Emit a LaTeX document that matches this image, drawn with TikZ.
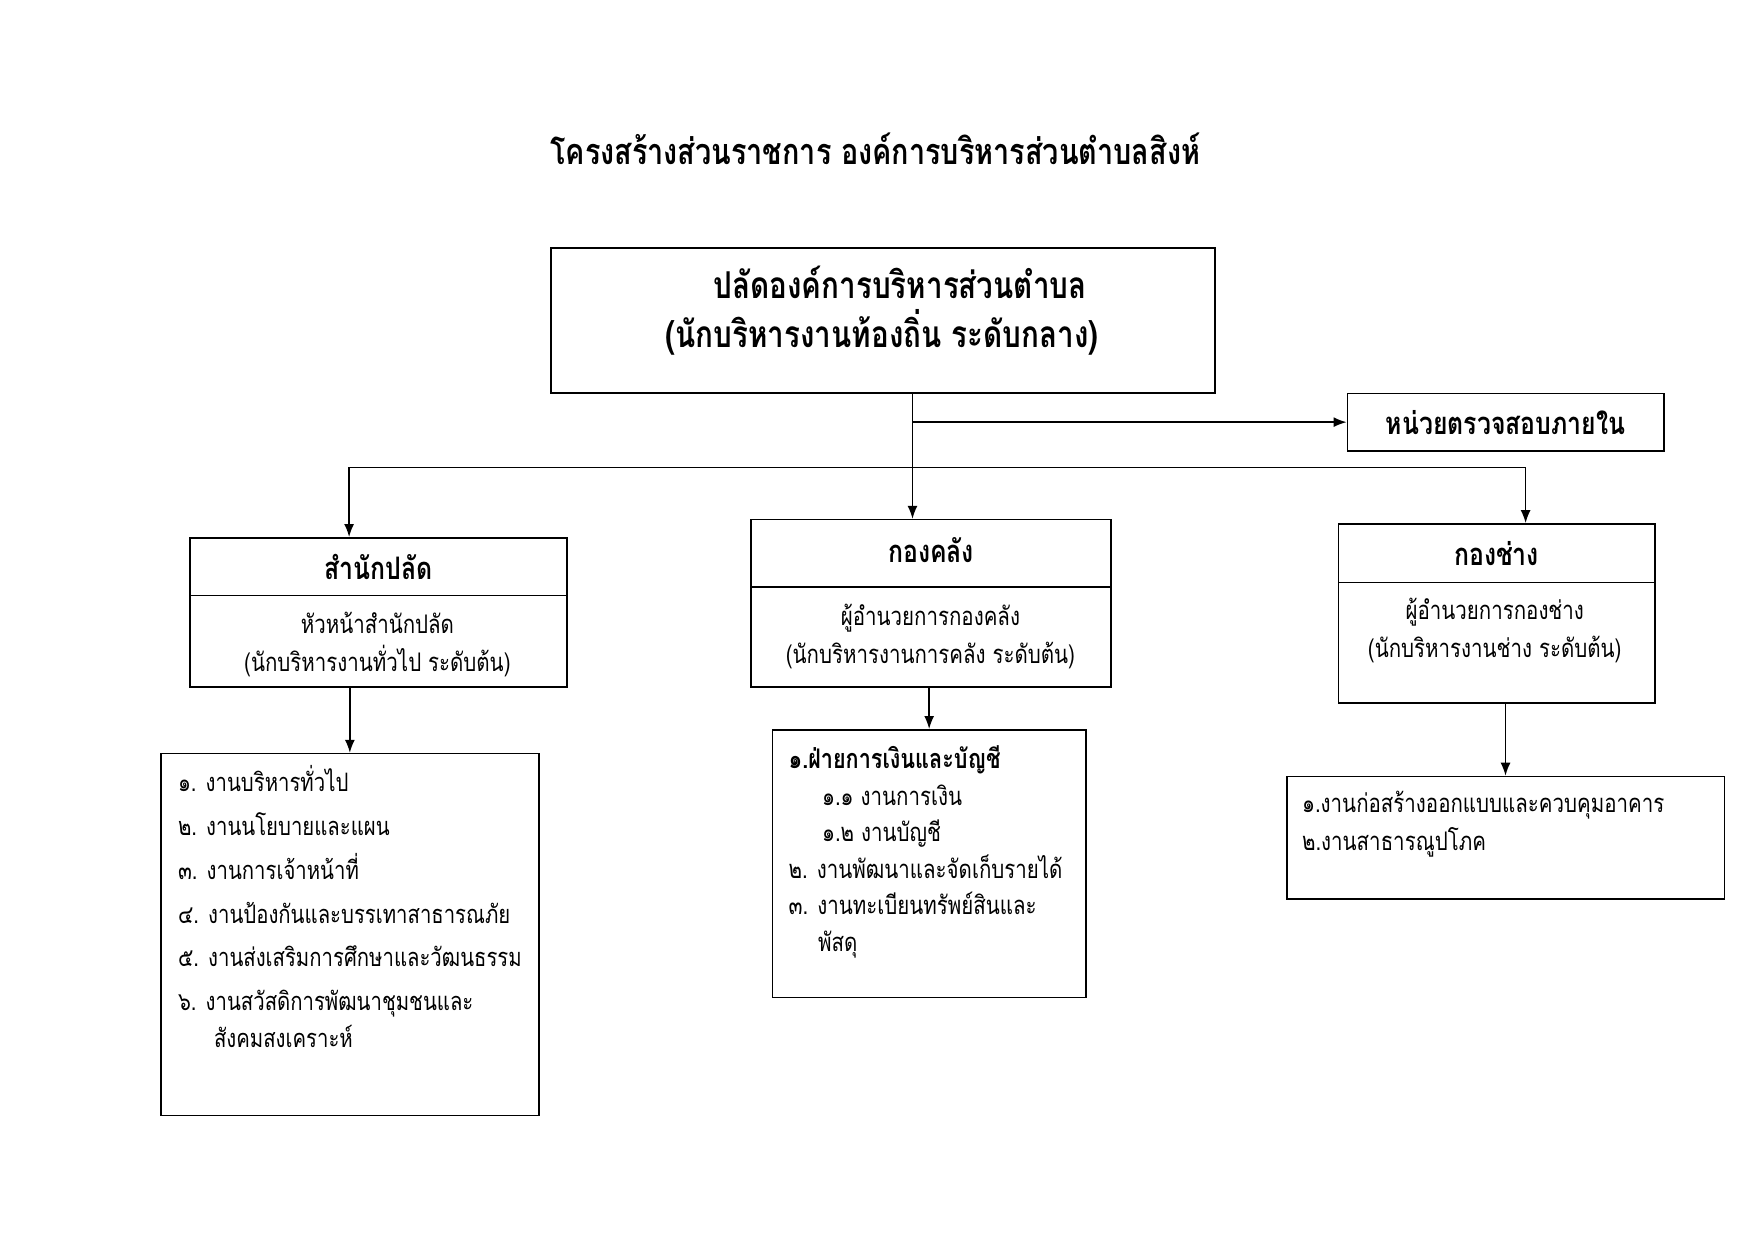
\documentclass[tikz,border=0pt]{standalone}
\usepackage{fontspec}
\usepackage{xcolor}
\usetikzlibrary{scopes,arrows.meta}
\newfontfamily\thai[Script=Thai,FakeStretch=0.8]{Loma}

\begin{document}
\begin{tikzpicture}[x=1pt,y=-1pt,
      box/.style={draw=black,line width=1.6pt,inner sep=0pt,anchor=north west},
      ttl/.style={font=\thai\fontsize{36}{40}\selectfont\bfseries},
      big/.style={font=\thai\fontsize{37}{49}\selectfont\bfseries},
      hd/.style={font=\thai\fontsize{31}{36}\selectfont\bfseries},
      txt/.style={font=\thai\fontsize{25.6}{38}\selectfont,align=center},
      arr/.style={draw=black,line width=1.5pt,>={Latex[length=13pt,width=10pt]}}
]
      \useasboundingbox (0,0) rectangle (1754,1240);
      \node[ttl] at (875.2,149) (title) {โครงสร้างส่วนราชการ องค์การบริหารส่วนตำบลสิงห์};
      % top
      \node[box,minimum width=664.3pt,minimum height=145.2pt] at (550,247.1) (chief) {};
      \node[big,align=center] at (890.1,310.3) (chieftxt) {\hspace*{20pt}ปลัดองค์การบริหารส่วนตำบล\\(นักบริหารงานท้องถิ่น ระดับกลาง)\hspace*{16pt}};
      \node[box,hd,minimum width=316.3pt,minimum height=57.7pt] at (1346.6,392.5) (audit) {หน่วยตรวจสอบภายใน};
      % three divisions
      \node[box,hd,minimum width=376.9pt,minimum height=57.7pt] at (189,537) (palathd) {สำนักปลัด};
      \node[box,minimum width=376.9pt,minimum height=91.5pt] at (189,594.7) (palatbody) {};
      \node[txt] at (377.4,644.4) (palattxt) {หัวหน้าสำนักปลัด\\(นักบริหารงานทั่วไป ระดับต้น)};
      \node[box,hd,minimum width=360pt,minimum height=67.6pt,text depth=6pt] at (750.3,518.8) (klanghd) {กองคลัง};
      \node[box,minimum width=360pt,minimum height=99.5pt] at (750.3,586.4) (klangbody) {};
      \node[txt] at (930.4,636.5) (klangtxt) {ผู้อำนวยการกองคลัง\\(นักบริหารงานการคลัง ระดับต้น)};
      \node[box,hd,minimum width=316.3pt,minimum height=58.4pt] at (1337.6,523.1) (changhd) {กองช่าง};
      \node[box,minimum width=316.3pt,minimum height=120.6pt] at (1337.6,581.5) (changbody) {};
      \node[txt] at (1494.7,630) (changtxt) {ผู้อำนวยการกองช่าง\\(นักบริหารงานช่าง ระดับต้น)};
      % work lists
      \node[box,minimum width=377.9pt,minimum height=362pt] at (160.1,752.8) (palatlist) {};
      \node[txt,align=left,anchor=north west,font=\thai\fontsize{25.4}{43.8}\selectfont] at (174.5,762) (palatjobs) {%
            ๑. งานบริหารทั่วไป\\
            ๒. งานนโยบายและแผน\\
            ๓. งานการเจ้าหน้าที่\\
            ๔. งานป้องกันและบรรเทาสาธารณภัย\\
            ๕. งานส่งเสริมการศึกษาและวัฒนธรรม\\
            ๖. งานสวัสดิการพัฒนาชุมชนและ\\[-6.5pt]
            \hspace*{36pt}สังคมสงเคราะห์};
      \node[box,minimum width=313.3pt,minimum height=267.5pt] at (771.7,729) (klanglist) {};
      \node[txt,align=left,anchor=north west,font=\thai\fontsize{25.6}{36.6}\selectfont] at (785,742) (klangjobs) {%
            {\fontsize{27}{36.6}\selectfont\bfseries ๑.ฝ่ายการเงินและบัญชี}\\
            \hspace*{33.5pt}๑.๑ งานการเงิน\\
            \hspace*{33.5pt}๑.๒ งานบัญชี\\
            ๒. งานพัฒนาและจัดเก็บรายได้\\
            ๓. งานทะเบียนทรัพย์สินและ\\
            \hspace*{29.5pt}พัสดุ};
      \node[box,minimum width=437.6pt,minimum height=122.3pt] at (1285.9,775.7) (changlist) {};
      \node[txt,align=left,anchor=north west,font=\thai\fontsize{25.6}{38}\selectfont] at (1298.5,788) (changjobs) {%
            ๑.งานก่อสร้างออกแบบและควบคุมอาคาร\\
            ๒.งานสาธารณูปโภค};
      % connectors
      \coordinate (trunk) at (912.5,392.5);
      \coordinate (busL) at (349.1,467.4);
      \coordinate (busR) at (1525.6,467.4);
      {[arr,->]
          \draw (trunk) -- (trunk |- klanghd.north);
          \draw (trunk |- audit.west) -- (audit.west);
          \draw (busR) -- (busR |- changhd.north);
          \draw (palatbody.south -| palatlist.north) -- (palatlist.north);
          \draw (klangbody.south -| klanglist.north) -- (klanglist.north);
          \draw (changbody.south -| changlist.north) -- (changlist.north);
      }
      \draw[arr,->] (busR) -- (busL) -- (busL |- palathd.north);
\end{tikzpicture}
\end{document}
